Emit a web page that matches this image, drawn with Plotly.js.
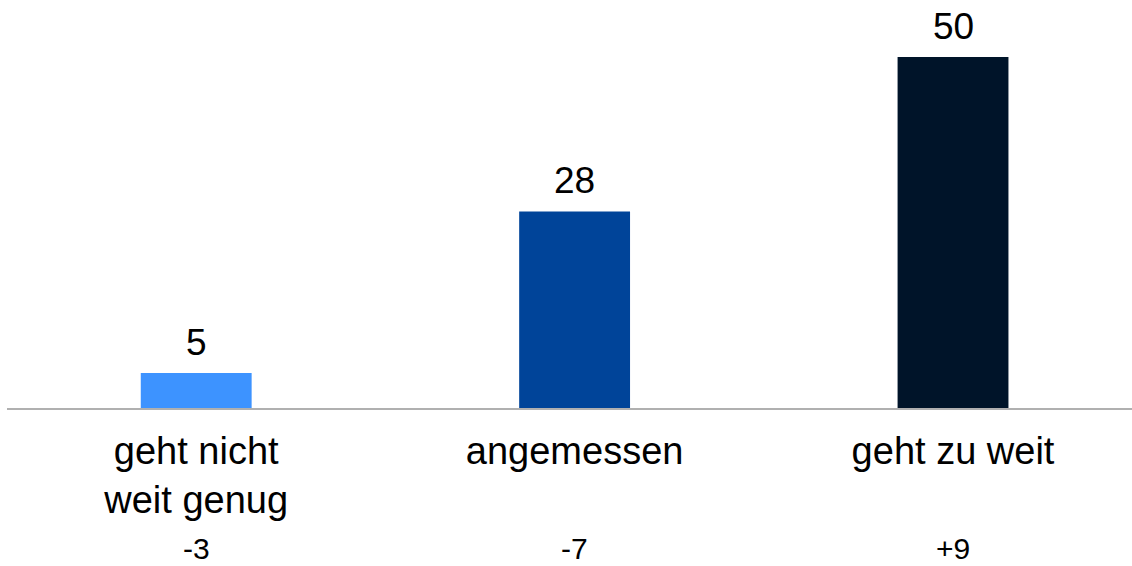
<!DOCTYPE html>
<html>
<head>
<meta charset="utf-8">
<script src="https://cdn.plot.ly/plotly-3.0.1.min.js"></script>
<style>html,body{margin:0;padding:0;background:#fff;}#chart{width:1132px;height:566px;}</style>
</head>
<body>
<div id="chart"></div>
<script>
const categories = ["geht nicht<br>weit genug", "angemessen", "geht zu weit"];
const values = [5, 28, 50];
const changes = ["-3", "-7", "+9"];
const barColors = ["#3d93ff", "#004499", "#001429"];

const FONT = "Liberation Sans, Arial, sans-serif";

const trace = {
  type: "bar",
  x: categories,
  y: values,
  marker: {color: barColors},
  width: 0.293,
  hoverinfo: "skip"
};

const annotations = [];
categories.forEach((c, i) => {
  annotations.push({
    x: c, y: values[i], xref: "x", yref: "y",
    text: String(values[i]),
    showarrow: false, yanchor: "bottom", yshift: 8,
    font: {family: FONT, size: 37, color: "#000"}
  });
  annotations.push({
    x: c, y: -0.41, xref: "x", yref: "paper",
    text: changes[i],
    showarrow: false, yanchor: "bottom",
    font: {family: FONT, size: 30, color: "#000"}
  });
});

const layout = {
  width: 1132, height: 566,
  margin: {l: 7, r: 0, t: 20, b: 158},
  paper_bgcolor: "#fff", plot_bgcolor: "#fff",
  showlegend: false,
  font: {family: FONT, color: "#000"},
  xaxis: {
    type: "category",
    range: [-0.5, 2.473],
    showline: true, linecolor: "#b0b0b0", linewidth: 2,
    ticks: "", showgrid: false, zeroline: false,
    tickfont: {family: FONT, size: 38, color: "#000"},
    ticklabelstandoff: 8
  },
  yaxis: {
    range: [0, 55.27],
    visible: false, showgrid: false, zeroline: false
  },
  annotations: annotations
};

Plotly.newPlot("chart", [trace], layout, {staticPlot: true, displayModeBar: false});
</script>
</body>
</html>
